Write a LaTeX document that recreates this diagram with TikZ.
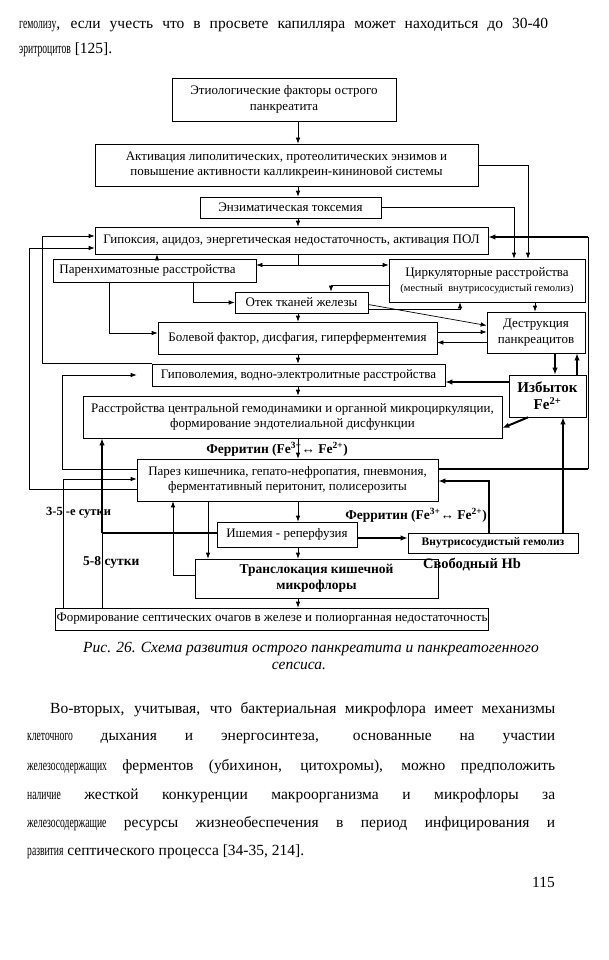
\documentclass[tikz,border=0pt]{standalone}
\usepackage{fontspec}
\setmainfont{Liberation Serif}
\usepackage{graphicx}
\usetikzlibrary{arrows.meta}
\newcommand\narrow[1]{\scalebox{0.62}[1]{#1}}
\newcommand\bodysize{\fontsize{15.5}{18}\selectfont}
\newcommand\boxsize{\fontsize{13}{15.5}\selectfont}
\tikzset{
  box/.style={draw, line width=0.7pt, inner sep=1pt, align=center, font=\boxsize},
  lnk/.style={line width=0.7pt, -{Latex[length=6pt,width=4.5pt]}},
  thk/.style={line width=2pt, -{Latex[length=7pt,width=5.5pt]}},
  lbl/.style={inner sep=0pt, font=\fontsize{13.5}{16}\selectfont\bfseries},
  txt/.style={anchor=west, inner sep=0pt, font=\bodysize},
}
\begin{document}
\begin{tikzpicture}[x=1pt, y=-1pt]
\useasboundingbox[fill=white] (0,0) rectangle (609,960);

\node[txt] (l1) at (19,25) {\makebox[529pt][s]{\narrow{гемолизу}, если учесть что в просвете капилляра может находиться до 30-40}};
\node[txt] (l2) at (19,50) {\narrow{эритроцитов} [125].};

\node[box, minimum width=224pt, minimum height=43pt] (etio) at (284,99.5) {Этиологические факторы острого\\панкреатита};
\node[box, minimum width=383pt, minimum height=42pt] (activ) at (286.5,165) {Активация липолитических, протеолитических энзимов и\\повышение активности калликреин-кининовой системы};
\node[box, minimum width=181pt, minimum height=21pt] (enz) at (290.5,207.5) {Энзиматическая токсемия};
\node[box, minimum width=393pt, minimum height=27pt] (hypox) at (291.5,240.5) {Гипоксия, ацидоз, энергетическая недостаточность, активация ПОЛ};
\node[box, minimum width=203pt, minimum height=23pt] (paren) at (154.5,270.5) {Паренхиматозные расстройства\hspace{14pt}};
\node[box, minimum width=196pt, minimum height=43pt] (circ) at (487,280.5) {Циркуляторные расстройства\\{\fontsize{10.5}{13}\selectfont(местный\ \ внутрисосудистый гемолиз)}};
\node[box, minimum width=133pt, minimum height=21pt] (otek) at (301.5,302.5) {Отек тканей железы};
\node[box, minimum width=98pt, minimum height=41pt] (destr) at (536,332.5) {Деструкция\\панкреацитов};
\node[box, minimum width=279pt, minimum height=32pt] (pain) at (297.5,338) {Болевой фактор, дисфагия, гиперферментемия};
\node[box, minimum width=293pt, minimum height=22pt] (hypov) at (298.5,375) {Гиповолемия, водно-электролитные расстройства};
\node[box, minimum width=77pt, minimum height=42pt, font=\fontsize{15}{17}\selectfont\bfseries] (fe) at (547.5,396) {Избыток\\Fe\textsuperscript{2+}};
\node[box, minimum width=419pt, minimum height=42pt] (disord) at (292.5,417) {Расстройства центральной гемодинамики и органной микроциркуляции,\\формирование эндотелиальной дисфункции};
\node[box, minimum width=301pt, minimum height=42pt] (paresis) at (287.5,480) {Парез кишечника, гепато-нефропатия, пневмония,\\ферментативный перитонит, полисерозиты};
\node[box, minimum width=140pt, minimum height=25pt] (ischemia) at (287,534.5) {Ишемия - реперфузия};
\node[box, minimum width=170pt, minimum height=20pt, font=\fontsize{11.5}{13}\selectfont\bfseries] (vnutr) at (493,543) {Внутрисосудистый гемолиз};
\node[box, minimum width=243pt, minimum height=39pt, font=\fontsize{13.5}{16}\selectfont\bfseries] (transl) at (316.5,578.5) {Транслокация кишечной\\микрофлоры};
\node[box, minimum width=432pt, minimum height=22pt] (form) at (272,619) {Формирование септических очагов в железе и полиорганная недостаточность};

\node[lbl, anchor=east] (ferr1) at (348,449) {Ферритин (Fe\textsuperscript{3+}↔ Fe\textsuperscript{2+})};
\node[lbl, anchor=east] (ferr2) at (487,515) {Ферритин (Fe\textsuperscript{3+}↔ Fe\textsuperscript{2+})};
\node[lbl, anchor=west, font=\fontsize{12.5}{15}\selectfont\bfseries] (d35) at (46,513) {3-5 -е сутки};
\node[lbl, anchor=west] (d58) at (83,562) {5-8 сутки};
\node[lbl, anchor=west, font=\fontsize{14.5}{17}\selectfont\bfseries] (hb) at (423,565) {Свободный Hb};

\coordinate (mid) at (298,0);
\coordinate (hs) at (298,265);
\coordinate (rt) at (588,237);
\coordinate (rb) at (588,469);
\coordinate (k35) at (102,533);
\coordinate (l1x) at (62,0);
\coordinate (l2x) at (29,0);
\coordinate (l3x) at (42,0);

\draw[lnk] (mid |- etio.south) -- (mid |- activ.north);
\draw[lnk] (mid |- activ.south) -- (mid |- enz.north);
\draw[lnk] (mid |- enz.south) -- (mid |- hypox.north);
\draw[lnk] (activ.east) -| ([xshift=41pt]circ.north);
\draw[lnk] (enz.east) -| ([xshift=27pt]circ.north);
\draw[line width=2pt] ([yshift=11pt]paresis.east) -- (rb);
\draw[line width=0.7pt] (rb) -- (rt);
\draw[thk] (rt) -- (rt -| hypox.east);
\draw[line width=0.7pt] (mid |- hypox.south) -- (hs);
\draw[lnk] (hs) -- (hs -| paren.east);
\draw[lnk] (hs) -- (hs -| circ.west);
\draw[lnk] ([xshift=2.5pt]paren.north) -- ([xshift=2.5pt]paren.north |- hypox.south);
\draw[lnk] ([xshift=-45.5pt]paren.south) |- ([yshift=5pt]pain.west);
\draw[lnk] ([xshift=38.5pt]paren.south) |- (otek.west);
\draw[lnk] ([yshift=-4.5pt]circ.west) -| ([xshift=29.5pt]otek.north);
\draw[lnk] ([yshift=-7pt]otek.east) -| ([xshift=-27pt]circ.south);
\draw[lnk] ([yshift=-2pt]otek.east) -- ([yshift=7pt]destr.west);
\draw[lnk] (mid |- otek.south) -- (mid |- pain.north);
\draw[lnk] ([yshift=6pt]pain.east) -- ([yshift=6pt]pain.east -| destr.west);
\draw[lnk] ([yshift=-10pt]destr.west) -- ([yshift=-10pt]destr.west -| pain.east);
\draw[lnk] ([xshift=48pt]circ.south) -- ([xshift=48pt]circ.south |- destr.north);
\draw[lnk] (mid |- pain.south) -- (mid |- hypov.north);
\draw[lnk] (mid |- hypov.south) -- (mid |- disord.north);
\draw[thk] ([xshift=19pt]destr.south) -- ([xshift=19pt]destr.south |- fe.north);
\draw[thk] ([xshift=29.5pt]fe.north) -- ([xshift=29.5pt]fe.north |- destr.south);
\draw[thk] ([yshift=14pt]fe.west) -- ([yshift=14pt]fe.west -| hypov.east);
\draw[thk] ([xshift=-19.5pt]fe.south) -- ([yshift=-11pt]disord.east);
\draw[lnk] (mid |- disord.south) -- (mid |- paresis.north);
\draw[lnk] (mid |- paresis.south) -- (mid |- ischemia.north);
\draw[lnk] (mid |- ischemia.south) -- (mid |- transl.north);
\draw[lnk] ([xshift=-79.5pt]paresis.south) -- ([xshift=-79.5pt]paresis.south |- transl.north);
\draw[lnk] ([yshift=3.5pt]transl.west) -| ([xshift=-114.5pt]paresis.south);
\draw[lnk] (mid |- transl.south) -- (mid |- form.north);
\draw[thk] ([yshift=-3.5pt]ischemia.east) -- ([yshift=-3.5pt]ischemia.east -| vnutr.west);
\draw[thk] ([xshift=70pt]vnutr.north) -- ([xshift=70pt]vnutr.north |- fe.south);
\draw[thk] ([xshift=-4pt]vnutr.north) |- ([yshift=-1pt]paresis.east);
\draw[line width=2pt] ([yshift=1.5pt]ischemia.west) -- (k35);
\draw[thk] (k35) -- (k35 |- disord.south);
\draw[line width=0.7pt] (k35 |- form.north) -- (k35);
\draw[lnk] ([xshift=-209pt]form.north) |- ([yshift=1pt]paresis.west);
\draw[lnk, shorten >=15pt] ([yshift=11pt]paresis.west) -- ([yshift=11pt]paresis.west -| l1x) |- (hypov.west);
\draw[lnk] ([yshift=-9pt]paresis.west) -- ([yshift=-9pt]paresis.west -| l2x) |- ([yshift=-7.5pt]hypox.west);
\draw[lnk] (hypov.north west) -- (hypov.north west -| l3x) |- ([yshift=4.5pt]hypox.west);

\node[inner sep=0pt, font=\bodysize\itshape] (cap1) at (311,649) {Рис. 26. Схема развития острого панкреатита и панкреатогенного};
\node[inner sep=0pt, font=\bodysize\itshape] (cap2) at (299,666) {сепсиса.};

\node[txt] (p1) at (50,710) {\makebox[505pt][s]{Во-вторых, учитывая, что бактериальная микрофлора имеет механизмы}};
\node[txt] (p2) at (27,739) {\makebox[528pt][s]{\narrow{клеточного} дыхания и энергосинтеза, основанные на участии}};
\node[txt] (p3) at (27,767) {\makebox[528pt][s]{\narrow{железосодержащих} ферментов (убихинон, цитохромы), можно предположить}};
\node[txt] (p4) at (27,796) {\makebox[528pt][s]{\narrow{наличие} жесткой конкуренции макроорганизма и микрофлоры за}};
\node[txt] (p5) at (27,824) {\makebox[528pt][s]{\narrow{железосодержащие} ресурсы жизнеобеспечения в период инфицирования и}};
\node[txt] (p6) at (27,852) {\narrow{развития} септического процесса [34-35, 214].};
\node[txt, anchor=east] (pg) at (555,882) {115};
\end{tikzpicture}
\end{document}
